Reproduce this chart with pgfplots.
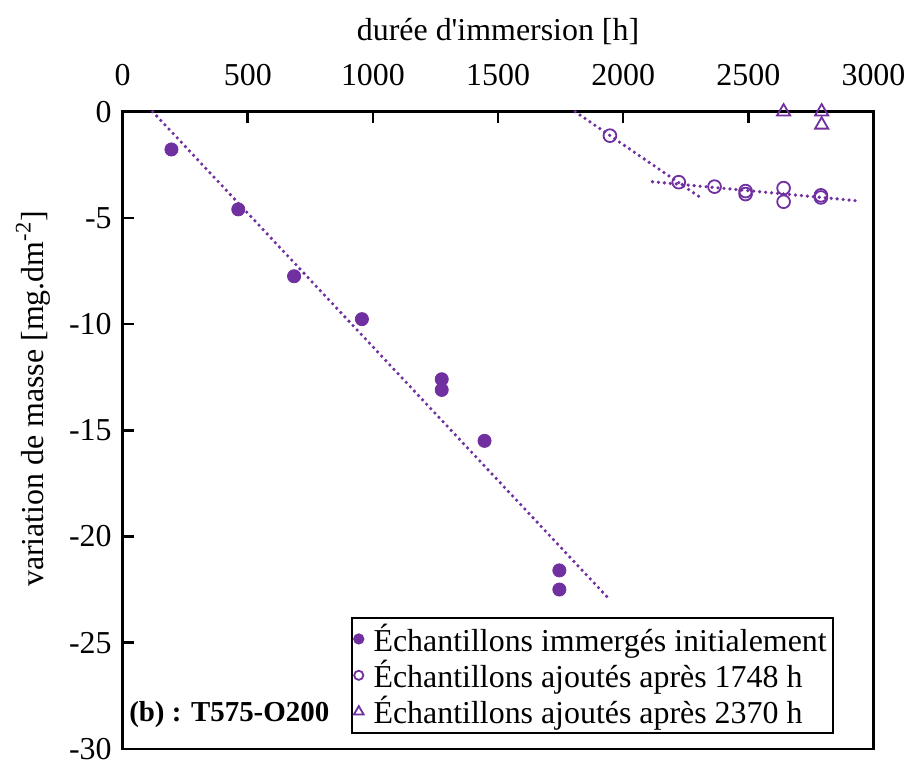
\documentclass[border=0pt]{standalone}
\usepackage{fontspec}
\setmainfont{Liberation Serif}
\usepackage{pgfplots}
\pgfplotsset{compat=1.18}
\definecolor{purp}{HTML}{7030A0}
\begin{document}
\begin{tikzpicture}[font=\fontsize{16}{19}\selectfont]
\begin{axis}[
  scale only axis,
  width=376.5pt, height=319.5pt,
  xmin=0, xmax=3000, ymin=-30, ymax=0,
  xtick={0,500,...,3000}, ytick={-30,-25,...,0},
  xtick pos=right, ytick pos=left,
  xticklabel pos=right,
  tick align=inside,
  major tick length=5.5pt,
  axis line style={line width=1.2pt},
  xtick style={draw=black, line width=1.3pt},
  ytick style={draw=black, line width=1.3pt},
  /pgf/number format/assume math mode=true,
  /pgf/number format/1000 sep={},
  xticklabel style={font=\fontsize{16}{19}\selectfont, yshift=9.5pt},
  yticklabel style={font=\fontsize{16}{19}\selectfont, xshift=-2pt},
  xlabel={durée d\textquotesingle immersion [h]},
  ylabel={variation de masse [mg.dm\textsuperscript{-2}]},
  xlabel style={font=\fontsize{16}{19}\selectfont, at={(axis description cs:0.5,1)}, anchor=center, yshift=40pt},
  ylabel style={font=\fontsize{16}{19}\selectfont, at={(axis description cs:-0.1195,0.549)}, anchor=center, rotate=0},
  clip=false,
  legend cell align=left,
  legend style={at={(0.947,0.0235)}, anchor=south east, draw=black, line width=1pt,
    font=\fontsize{16}{19}\selectfont, inner xsep=1pt, inner ysep=1pt,
    row sep=-1pt},
  /tikz/every odd column/.style={column sep=3pt},
]
% trendlines
\addplot[purp, line width=1.8pt, dash pattern=on 0pt off 3pt, line cap=round, forget plot] coordinates {(120,0) (1940,-22.9)};
\addplot[purp, line width=1.8pt, dash pattern=on 0pt off 3pt, line cap=round, forget plot] coordinates {(1808,0) (2312,-4.07)};
\addplot[purp, line width=1.8pt, dash pattern=on 0pt off 3pt, line cap=round, forget plot] coordinates {(2117,-3.30) (2930,-4.19)};
% filled
\addplot[only marks, mark=*, mark size=3.3pt, purp, fill=purp,
  legend image code/.code={\draw[mark=*, mark size=2.3pt, purp, fill=purp] plot coordinates {(0pt,0pt)};}]
  coordinates {(195,-1.78) (462,-4.6) (685,-7.75) (956,-9.77) (1275,-12.6) (1275,-13.1) (1446,-15.5) (1745,-21.6) (1745,-22.5)};
\addlegendentry{Échantillons immergés initialement}
% open circles
\addplot[only marks, mark=o, mark size=3.2pt, purp, mark options={line width=0.9pt},
  legend image code/.code={\draw[mark=o, mark size=2.3pt, purp, line width=0.8pt] plot coordinates {(0pt,0pt)};}]
  coordinates {(1947,-1.13) (2222,-3.32) (2365,-3.53) (2489,-3.74) (2489,-3.88) (2641,-3.6) (2641,-4.24) (2790,-3.94) (2790,-4.04)};
\addlegendentry{Échantillons ajoutés après 1748 h}
% triangles
\addplot[only marks, mark=triangle, mark size=3.8pt, purp, mark options={line width=0.9pt},
  legend image code/.code={\draw[mark=triangle, mark size=2.8pt, purp, line width=0.8pt] plot coordinates {(0pt,0pt)};}]
  coordinates {(2641,0.0) (2793,0.0) (2793,-0.62)};
\addlegendentry{Échantillons ajoutés après 2370 h}
\node[font=\fontsize{14.5}{17}\selectfont\bfseries, anchor=center] at (axis description cs:0.142,0.053) {(b) : T575-O200};
\end{axis}
\path (current axis.south west) ++(-61.5pt,-6.5pt) rectangle ([xshift=18pt,yshift=56pt]current axis.north east);
\end{tikzpicture}
\end{document}
